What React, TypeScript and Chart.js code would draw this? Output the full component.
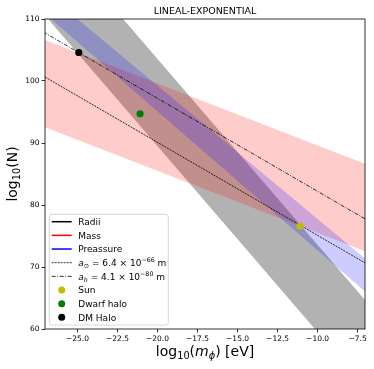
import React, { useEffect, useRef } from 'react';
import { Chart, registerables } from 'chart.js';
Chart.register(...registerables);

const FONT = '"DejaVu Sans", sans-serif';

// ---- data ----
const X_TICKS = [-25, -22.5, -20, -17.5, -15, -12.5, -10, -7.5];
const Y_TICKS = [60, 70, 80, 90, 100, 110];
const EDGE_X = [-28, -6];
const RADII_UPPER = [127.55, 61.55];
const RADII_LOWER = [113.49, 47.49];
const MASS_UPPER = [107.6, 85.6];
const MASS_LOWER = [93.5, 71.5];
const PRESSURE_UPPER = [116.45, 69.15];
const PRESSURE_LOWER = [113.0, 63.72];
const A_SUN_LINE = [102.1, 69.1];
const A_HALO_LINE = [109.2, 76.2];
const SUN = [-11.1, 76.6];
const DWARF = [-21.09, 94.7];
const DM_HALO = [-24.92, 104.6];

const TITLE = 'LINEAL-EXPONENTIAL';

type Seg = { t: string; it?: boolean; sub?: boolean; sup?: boolean };

const X_LABEL: Seg[] = [{ t: 'log' }, { t: '10', sub: true }, { t: '(' }, { t: 'm', it: true }, { t: 'ϕ', it: true, sub: true }, { t: ') [eV]' }];
const Y_LABEL: Seg[] = [{ t: 'log' }, { t: '10', sub: true }, { t: '(N)' }];

type LegendItem = { label: Seg[]; kind: 'line' | 'dot'; color: string; dash?: number[]; width?: number };
const LEGEND: LegendItem[] = [
  { label: [{ t: 'Radii' }], kind: 'line', color: '#000000', width: 1.5 },
  { label: [{ t: 'Mass' }], kind: 'line', color: '#ff0000', width: 1.5 },
  { label: [{ t: 'Preassure' }], kind: 'line', color: '#0000ff', width: 1.5 },
  { label: [{ t: 'a', it: true }, { t: '⊙', sub: true }, { t: ' = 6.4 × 10' }, { t: '−66', sup: true }, { t: ' m' }], kind: 'line', color: '#000000', dash: [2, 1], width: 0.8 },
  { label: [{ t: 'a', it: true }, { t: 'h', it: true, sub: true }, { t: ' = 4.1 × 10' }, { t: '−80', sup: true }, { t: ' m' }], kind: 'line', color: '#000000', dash: [4, 1.5, 1, 1.5], width: 0.8 },
  { label: [{ t: 'Sun' }], kind: 'dot', color: '#bfbf00' },
  { label: [{ t: 'Dwarf halo' }], kind: 'dot', color: '#008000' },
  { label: [{ t: 'DM Halo' }], kind: 'dot', color: '#000000' },
];

const pts = (ys: number[]) => EDGE_X.map((x, i) => ({ x, y: ys[i] }));

function segFont(s: Seg, size: number) {
  const sz = s.sub || s.sup ? size * 0.7 : size;
  return `${s.it ? 'italic ' : ''}${sz}px ${FONT}`;
}
function measureRich(ctx: CanvasRenderingContext2D, segs: Seg[], size: number) {
  let w = 0;
  for (const s of segs) {
    ctx.font = segFont(s, size);
    w += ctx.measureText(s.t).width;
  }
  return w;
}
function drawRich(ctx: CanvasRenderingContext2D, segs: Seg[], x: number, y: number, size: number) {
  let cx = x;
  ctx.textAlign = 'left';
  ctx.textBaseline = 'alphabetic';
  for (const s of segs) {
    ctx.font = segFont(s, size);
    const dy = s.sub ? size * 0.22 : s.sup ? -size * 0.4 : 0;
    ctx.fillText(s.t, cx, y + dy);
    cx += ctx.measureText(s.t).width;
  }
}

const overlay = {
  id: 'overlay',
  afterDatasetsDraw(chart: any) {
    const { ctx, chartArea: a } = chart;
    ctx.save();
    ctx.strokeStyle = '#000';
    ctx.lineWidth = 0.8;
    ctx.strokeRect(a.left, a.top, a.right - a.left, a.bottom - a.top);
    ctx.restore();
  },
  afterDraw(chart: any) {
    const { ctx, chartArea: a } = chart;
    ctx.save();
    ctx.fillStyle = '#000';
    const cx = (a.left + a.right) / 2;
    // title
    ctx.font = `9.5px ${FONT}`;
    ctx.textAlign = 'center';
    ctx.textBaseline = 'alphabetic';
    ctx.fillText(TITLE, cx, a.top - 5.5);
    // x label
    const xs = 14;
    const xw = measureRich(ctx, X_LABEL, xs);
    drawRich(ctx, X_LABEL, cx - xw / 2, a.bottom + 27, xs);
    // y label
    const yw = measureRich(ctx, Y_LABEL, xs);
    ctx.save();
    ctx.translate(17, (a.top + a.bottom) / 2);
    ctx.rotate(-Math.PI / 2);
    drawRich(ctx, Y_LABEL, -yw / 2, 0, xs);
    ctx.restore();

    // legend
    const lx = a.left + 4.3, ly = a.top + 195.3, lw = 119, lh = 110.7;
    ctx.beginPath();
    (ctx as any).roundRect(lx, ly, lw, lh, 2.5);
    ctx.fillStyle = 'rgba(255,255,255,0.8)';
    ctx.fill();
    ctx.strokeStyle = '#cccccc';
    ctx.lineWidth = 0.8;
    ctx.stroke();
    LEGEND.forEach((it, i) => {
      const ry = ly + 7.4 + i * 13.66;
      if (it.kind === 'line') {
        ctx.beginPath();
        ctx.setLineDash(it.dash || []);
        ctx.strokeStyle = it.color;
        ctx.lineWidth = it.width || 1.5;
        ctx.moveTo(lx + 2.4, ry);
        ctx.lineTo(lx + 22.4, ry);
        ctx.stroke();
        ctx.setLineDash([]);
      } else {
        ctx.beginPath();
        ctx.fillStyle = it.color;
        ctx.arc(lx + 12.4, ry, 3.5, 0, Math.PI * 2);
        ctx.fill();
      }
      ctx.fillStyle = '#000';
      drawRich(ctx, it.label, lx + 29, ry + 3.3, 9);
    });
    ctx.restore();
  },
};

export default function App() {
  const ref = useRef<HTMLCanvasElement>(null);
  useEffect(() => {
    if (!ref.current) return;
    const band = (ys: number[], fill: any, color: string, order: number) => ({
      type: 'line' as const,
      data: pts(ys),
      showLine: true,
      borderWidth: 0,
      borderColor: 'transparent',
      pointRadius: 0,
      fill,
      backgroundColor: color,
      order,
    });
    const chart = new Chart(ref.current, {
      type: 'scatter',
      data: {
        datasets: [
          band(RADII_UPPER, false, 'transparent', 10),
          band(RADII_LOWER, '-1', 'rgba(0,0,0,0.3)', 10),
          band(MASS_UPPER, false, 'transparent', 9),
          band(MASS_LOWER, '-1', 'rgba(255,0,0,0.2)', 9),
          band(PRESSURE_UPPER, false, 'transparent', 8),
          band(PRESSURE_LOWER, '-1', 'rgba(0,0,255,0.2)', 8),
          {
            type: 'line',
            data: pts(A_SUN_LINE),
            showLine: true,
            borderColor: '#000',
            borderWidth: 0.8,
            borderDash: [2, 1],
            pointRadius: 0,
            fill: false,
            order: 2,
          } as any,
          {
            type: 'line',
            data: pts(A_HALO_LINE),
            showLine: true,
            borderColor: '#000',
            borderWidth: 0.8,
            borderDash: [4, 1.5, 1, 1.5],
            pointRadius: 0,
            fill: false,
            order: 2,
          } as any,
          { data: [{ x: SUN[0], y: SUN[1] }], backgroundColor: '#bfbf00', pointRadius: 3.6, borderWidth: 0, order: 1 },
          { data: [{ x: DWARF[0], y: DWARF[1] }], backgroundColor: '#008000', pointRadius: 3.6, borderWidth: 0, order: 1 },
          { data: [{ x: DM_HALO[0], y: DM_HALO[1] }], backgroundColor: '#000000', pointRadius: 3.6, borderWidth: 0, order: 1 },
        ] as any,
      },
      options: {
        animation: false,
        responsive: false,
        devicePixelRatio: 1,
        layout: { padding: { top: 19, right: 9, left: 0, bottom: 0 } },
        plugins: { legend: { display: false }, tooltip: { enabled: false }, title: { display: false } },
        scales: {
          x: {
            type: 'linear',
            min: -27.03,
            max: -7.04,
            afterBuildTicks: (s: any) => {
              s.ticks = X_TICKS.map((v) => ({ value: v }));
            },
            afterFit: (s: any) => {
              s.height = 40;
            },
            ticks: {
              callback: (v: any) => Number(v).toFixed(1).replace('-', '\u2212'),
              font: { family: FONT, size: 7.5 },
              color: '#000',
              padding: 2.5,
              maxRotation: 0,
              autoSkip: false,
            },
            grid: { drawOnChartArea: false, drawTicks: true, tickLength: 3.5, color: '#000', lineWidth: 0.8 },
            border: { display: false },
          },
          y: {
            type: 'linear',
            min: 60,
            max: 110,
            afterBuildTicks: (s: any) => {
              s.ticks = Y_TICKS.map((v) => ({ value: v }));
            },
            afterFit: (s: any) => {
              s.width = 45;
            },
            ticks: {
              callback: (v: any) => String(v),
              font: { family: FONT, size: 7.5 },
              color: '#000',
              padding: 2,
              autoSkip: false,
            },
            grid: { drawOnChartArea: false, drawTicks: true, tickLength: 3.5, color: '#000', lineWidth: 0.8 },
            border: { display: false },
          },
        },
      },
      plugins: [overlay],
    } as any);
    return () => chart.destroy();
  }, []);
  return (
    <div style={{ position: 'absolute', left: 0, top: 0, width: 374, height: 369, background: '#fff' }}>
      <canvas ref={ref} width={374} height={369} />
    </div>
  );
}
